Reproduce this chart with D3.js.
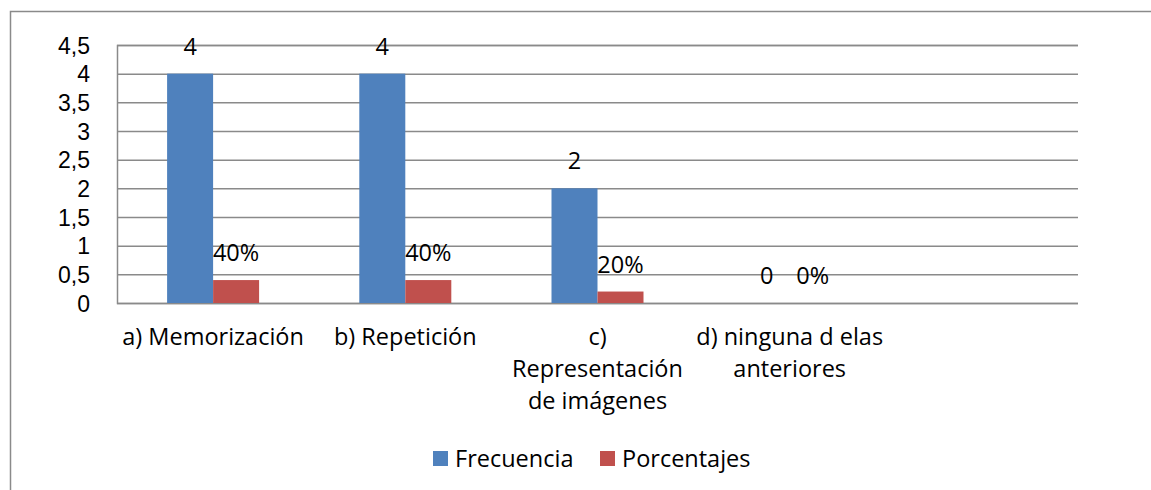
<html>
  <head>
    <title>Frecuencia y porcentajes</title>
    <style>
      body { margin: 0; background: #fff; }
      text { font-family: "Open Sans", Lato, sans-serif; fill: #000; }
    </style>
  </head>
  <body>
    <script type="text/javascript" src="https://d3js.org/d3.v7.min.js"></script>
    <script type="text/javascript">
    // datos
    var categories = ["a) Memorización", "b) Repetición", "c) Representación de imágenes", "d) ninguna d elas anteriores", ""];
    var categoryLines = [["a) Memorización"], ["b) Repetición"], ["c)", "Representación", "de imágenes"], ["d) ninguna d elas", "anteriores"], [""]];
    var frecuencia = [4, 4, 2, 0, null];
    var porcentajes = [0.4, 0.4, 0.2, 0, null];
    var porcentajeLabels = ["40%", "40%", "20%", "0%", ""];
    var yTicks = [0, 0.5, 1, 1.5, 2, 2.5, 3, 3.5, 4, 4.5];
    var seriesNames = ["Frecuencia", "Porcentajes"];
    var colors = ["#4f81bd", "#c0504d"];

    var W = 1151, H = 490,
        margin = { top: 45, left: 117, right: 73, bottom: 188 },
        fs = 23.5;

    var es = d3.formatLocale({ decimal: ",", thousands: ".", grouping: [3], currency: ["", "€"] });

    var svg = d3.select("body").append("svg")
        .attr("width", W).attr("height", H);

    // borde exterior
    svg.append("rect")
      .attr("x", 10.5).attr("y", 11.5)
      .attr("width", 1300).attr("height", 700)
      .attr("fill", "none").attr("stroke", "#8a8a8a").attr("stroke-width", 1.5);

    var x = d3.scaleBand()
      .domain(categories)
      .range([margin.left, W - margin.right]);

    var y = d3.scaleLinear()
      .domain([0, 4.5])
      .range([H - margin.bottom + 1, margin.top]);

    var bw = 46;

    // grid
    var yAxis = d3.axisLeft(y)
      .tickValues(yTicks)
      .tickSize(-(W - margin.right - margin.left))
      .tickPadding(27)
      .tickFormat(function(d) { return es.format(",")(d); });

    var gy = svg.append("g")
      .attr("transform", "translate(" + margin.left + ",0)")
      .call(yAxis);
    gy.select(".domain").attr("stroke", "#8a8a8a").attr("stroke-width", 1.5);
    gy.selectAll(".tick line").attr("stroke", "#8a8a8a").attr("stroke-width", 1.5);
    gy.selectAll(".tick text")
      .style("font-family", "'Liberation Sans', Arial, sans-serif")
      .attr("font-size", 23).attr("fill", "#000").attr("dy", "0.36em");

    var series = [frecuencia, porcentajes];
    var labels = [frecuencia.map(function(d) { return d == null ? "" : String(d); }), porcentajeLabels];

    series.forEach(function(vals, s) {
      var g = svg.append("g");
      g.selectAll("rect")
        .data(vals)
        .enter().append("rect")
          .filter(function(d) { return d != null && d > 0; })
          .attr("x", function(d, i) { return x(categories[i]) + x.bandwidth() / 2 - bw + s * bw; })
          .attr("y", function(d) { return y(d); })
          .attr("width", bw)
          .attr("height", function(d) { return y(0) - y(d); })
          .attr("fill", colors[s]);

      g.selectAll("text")
        .data(vals)
        .enter().append("text")
          .attr("x", function(d, i) { return x(categories[i]) + x.bandwidth() / 2 - bw / 2 + s * bw; })
          .attr("y", function(d) { return d == null ? 0 : y(d) - 19; })
          .attr("text-anchor", "middle")
          .attr("font-size", fs)
          .text(function(d, i) { return labels[s][i]; });
    });

    // etiquetas de categoría
    var cat = svg.append("g");
    categoryLines.forEach(function(lines, i) {
      var t = cat.append("text")
        .attr("text-anchor", "middle")
        .attr("font-size", fs)
        .attr("x", x(categories[i]) + x.bandwidth() / 2)
        .attr("y", 345);
      lines.forEach(function(l, j) {
        t.append("tspan")
          .attr("x", x(categories[i]) + x.bandwidth() / 2)
          .attr("y", 345 + j * 32)
          .text(l);
      });
    });

    // leyenda
    var legX = [433, 600];
    var leg = svg.append("g");
    seriesNames.forEach(function(n, i) {
      leg.append("rect")
        .attr("x", legX[i]).attr("y", 451)
        .attr("width", 15).attr("height", 15)
        .attr("fill", colors[i]);
      leg.append("text")
        .attr("x", legX[i] + 22).attr("y", 467)
        .attr("font-size", fs)
        .text(n);
    });
    </script>
  </body>
</html>
